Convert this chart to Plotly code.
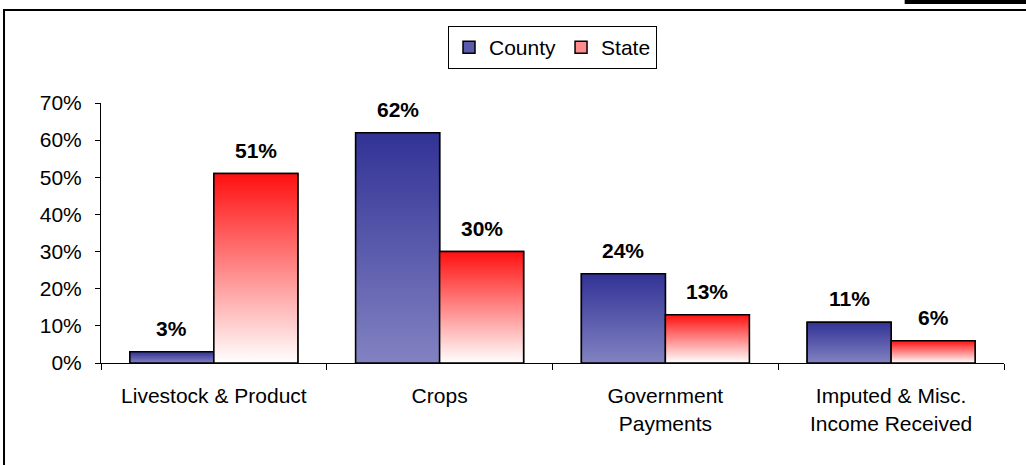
import plotly.graph_objects as go

categories = ["Livestock & Product", "Crops", "Government<br>Payments",
              "Imputed & Misc.<br>Income Received"]
county = [0.03, 0.62, 0.24, 0.11]
state = [0.51, 0.30, 0.13, 0.06]
y_ticks = [0, 0.1, 0.2, 0.3, 0.4, 0.5, 0.6, 0.7]

FONT = "Liberation Sans, Arial, sans-serif"
BAR_W = 0.372

series = [
    ("County", county, -BAR_W, "#5b5bab", [[0, "#8282c2"], [1, "#323296"]]),
    ("State", state, 0.0, "#ff8c8c", [[0, "#ffffff"], [1, "#ff1010"]]),
]

fig = go.Figure()

# plain bars give the legend swatches; gradient polygons are drawn on top
for name, values, offset, solid, _ in series:
    fig.add_trace(go.Bar(
        x=list(range(len(categories))), y=values, name=name,
        offset=offset, width=BAR_W,
        marker=dict(color=solid, line=dict(color="black", width=1.5)),
        hoverinfo="skip",
    ))

for name, values, offset, _, scale in series:
    for i, v in enumerate(values):
        x0 = i + offset
        x1 = x0 + BAR_W
        fig.add_trace(go.Scatter(
            x=[x0, x0, x1, x1, x0], y=[0, v, v, 0, 0],
            mode="lines", fill="toself",
            fillgradient=dict(type="vertical", colorscale=scale),
            line=dict(color="black", width=1.5),
            showlegend=False, hoverinfo="skip",
        ))
        fig.add_annotation(
            x=x0 + BAR_W / 2, y=v, text=f"<b>{v:.0%}</b>",
            showarrow=False, yanchor="bottom", yshift=10,
            font=dict(family=FONT, size=21, color="black"),
        )

# picture frame around the chart
fig.add_shape(type="rect", xref="paper", yref="paper",
              x0=-0.1074, x1=1.1, y0=-0.45, y1=1.3577,
              line=dict(color="black", width=2), fillcolor="rgba(0,0,0,0)")
fig.add_shape(type="rect", xref="paper", yref="paper",
              x0=0.89, x1=1.1, y0=1.381, y1=1.45,
              line=dict(width=0), fillcolor="black")

fig.update_layout(
    width=1026, height=465,
    barmode="overlay",
    paper_bgcolor="white", plot_bgcolor="white",
    margin=dict(l=101, r=22, t=103, b=102),
    font=dict(family=FONT, size=21, color="black"),
    showlegend=True,
    legend=dict(
        orientation="h", x=0.5, xanchor="center", y=1.296, yanchor="top",
        bordercolor="black", borderwidth=1, bgcolor="white",
        font=dict(size=21), itemwidth=30, tracegroupgap=0,
    ),
    xaxis=dict(
        range=[-0.5, 3.5], tickvals=list(range(len(categories))),
        ticktext=categories, ticks="", showline=True, linecolor="black",
        linewidth=1, showgrid=False, zeroline=False, ticklabelstandoff=14,
        minor=dict(tickvals=[i - 0.5 for i in range(len(categories) + 1)],
                   ticks="outside", ticklen=6, tickcolor="black",
                   showgrid=False),
    ),
    yaxis=dict(
        range=[0, 0.7], tickvals=y_ticks, tickformat=".0%",
        ticks="outside", ticklen=5, tickcolor="black",
        showline=True, linecolor="black", linewidth=1,
        showgrid=False, zeroline=False, ticklabelstandoff=9,
    ),
)

fig.write_html("out.html", config={"displayModeBar": False},
               post_script="document.body.style.margin = '0';")
